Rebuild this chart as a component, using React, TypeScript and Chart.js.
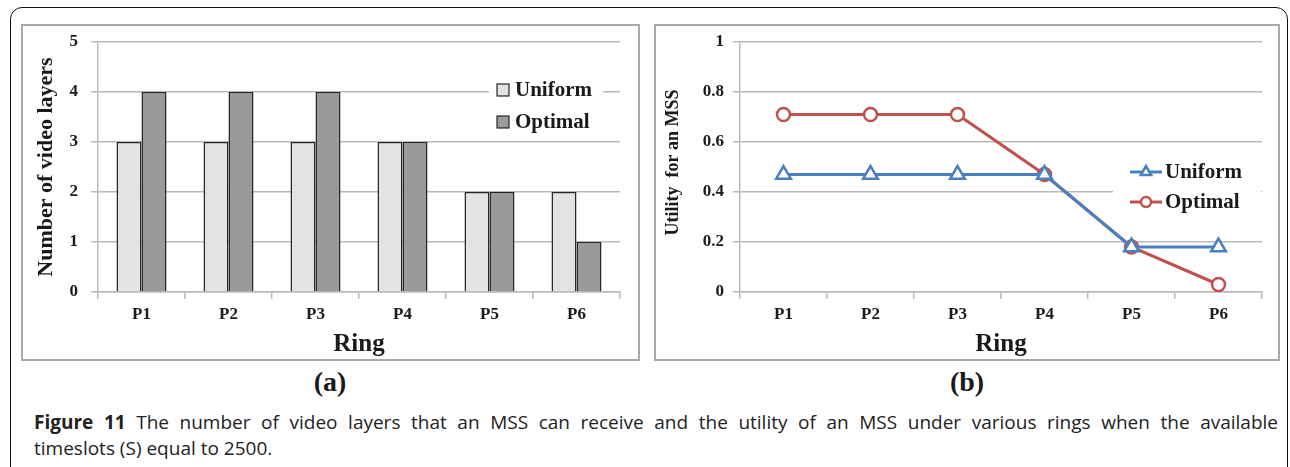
import React, { useEffect, useRef } from "react";
import { Chart, registerables } from "chart.js";

Chart.register(...registerables);

// ---- data ----
const rings = ["P1", "P2", "P3", "P4", "P5", "P6"];
const uniformLayers = [3, 3, 3, 3, 2, 2];
const optimalLayers = [4, 4, 4, 3, 2, 1];
const uniformUtility = [0.47, 0.47, 0.47, 0.47, 0.18, 0.18];
const optimalUtility = [0.71, 0.71, 0.71, 0.47, 0.18, 0.03];
const seriesNames = ["Uniform", "Optimal"];
const layerAxisTitle = "Number of video layers";
const utilityAxisTitle = "  Utility  for an MSS";
const ringTitle = "Ring";

const SERIF = "'Liberation Serif', 'Times New Roman', serif";
const GRID = "#bababa";
const BLUE = "#4a80c0";
const RED = "#c0504d";

const customLegend = {
  id: "customLegend",
  afterDraw(chart: any, _a: any, o: any) {
    const ctx = chart.ctx;
    ctx.save();
    ctx.fillStyle = "#fff";
    ctx.fillRect(o.bgX, o.bgY, o.bgW, o.bgH);
    chart.data.datasets.forEach((ds: any, i: number) => {
      const y = o.y0 + i * o.dy;
      if (o.kind === "box") {
        ctx.fillStyle = ds.backgroundColor;
        ctx.strokeStyle = "#262626";
        ctx.lineWidth = 1.2;
        ctx.fillRect(o.symX, y - 6, 12, 12);
        ctx.strokeRect(o.symX, y - 6, 12, 12);
      } else {
        ctx.strokeStyle = ds.borderColor;
        ctx.lineWidth = 3;
        ctx.beginPath();
        ctx.moveTo(o.symX, y);
        ctx.lineTo(o.symX + 32, y);
        ctx.stroke();
        const cx = o.symX + 16;
        ctx.fillStyle = "#fff";
        ctx.lineWidth = 2.5;
        ctx.beginPath();
        if (ds.pointStyle === "triangle") {
          const r = 6;
          ctx.moveTo(cx, y - r);
          ctx.lineTo(cx + r * Math.sin((2 * Math.PI) / 3), y + r / 2);
          ctx.lineTo(cx - r * Math.sin((2 * Math.PI) / 3), y + r / 2);
          ctx.closePath();
        } else {
          ctx.arc(cx, y, 5, 0, Math.PI * 2);
        }
        ctx.fill();
        ctx.stroke();
      }
      ctx.fillStyle = "#1a1a1a";
      ctx.font = `bold 21px ${SERIF}`;
      ctx.textBaseline = "middle";
      ctx.textAlign = "left";
      ctx.fillText(ds.label, o.textX, y + 1);
    });
    ctx.restore();
  },
};

function ChartCanvas({ config, style, width, height }: any) {
  const ref = useRef<HTMLCanvasElement>(null);
  useEffect(() => {
    const chart = new Chart(ref.current as HTMLCanvasElement, config());
    return () => chart.destroy();
  }, []);
  return <canvas ref={ref} width={width} height={height} style={{ position: "absolute", width, height, ...style }} />;
}

const tickFont = { family: SERIF, size: 17, weight: "bold" as const };
const fitY = (w: number) => (s: any) => { s.width = w; s.paddingTop = 0; s.paddingBottom = 0; };
const fitX = (h: number) => (s: any) => { s.height = h; s.paddingLeft = 0; s.paddingRight = 0; };

// left canvas placed at page (23,26), size 615x332
const barConfig = () => ({
  type: "bar",
  data: {
    labels: rings,
    datasets: [
      { label: seriesNames[0], data: uniformLayers, backgroundColor: "#e3e3e3", borderColor: "#262626", borderWidth: 1.5 },
      { label: seriesNames[1], data: optimalLayers, backgroundColor: "#9a9a9a", borderColor: "#262626", borderWidth: 1.5 },
    ],
  },
  options: {
    responsive: false,
    animation: false,
    layout: { padding: { top: 16, right: 18, left: 0, bottom: 0 } },
    datasets: { bar: { categoryPercentage: 0.575, barPercentage: 1 } },
    plugins: {
      legend: { display: false },
      tooltip: { enabled: false },
      customLegend: { kind: "box", bgX: 466, bgY: 46, bgW: 114, bgH: 66, y0: 64, dy: 32, symX: 474, textX: 492 },
    },
    scales: {
      x: {
        afterFit: fitX(66),
        grid: { drawOnChartArea: false, drawTicks: true, tickLength: 7, color: GRID, lineWidth: 1.5 },
        border: { color: GRID, width: 1.5 },
        ticks: { font: tickFont, color: "#1a1a1a", padding: 5 },
        title: { display: true, text: ringTitle, font: { family: SERIF, size: 25, weight: "bold", lineHeight: 1 }, color: "#1a1a1a", padding: { top: 0, bottom: 1 } },
      },
      y: {
        min: 0,
        max: 5,
        afterFit: fitY(75),
        ticks: { stepSize: 1, font: tickFont, color: "#1a1a1a", padding: 13 },
        grid: { color: GRID, lineWidth: 1.5, tickLength: 7 },
        border: { color: GRID, width: 1.5 },
        title: { display: true, text: layerAxisTitle, font: { family: SERIF, size: 22, weight: "bold" }, color: "#1a1a1a", padding: { top: 10, bottom: 0 } },
      },
    },
  },
  plugins: [customLegend],
});

// right canvas placed at page (656,26), size 622x332
const lineConfig = () => ({
  type: "line",
  data: {
    labels: rings,
    datasets: [
      {
        label: seriesNames[0], data: uniformUtility, borderColor: BLUE, backgroundColor: "#ffffff", borderWidth: 3,
        pointStyle: "triangle", pointRadius: 8.5, pointBorderWidth: 2.5, pointBackgroundColor: "#ffffff", pointBorderColor: BLUE,
      },
      {
        label: seriesNames[1], data: optimalUtility, borderColor: RED, backgroundColor: "#ffffff", borderWidth: 3,
        pointStyle: "circle", pointRadius: 6.5, pointBorderWidth: 2.5, pointBackgroundColor: "#ffffff", pointBorderColor: RED,
      },
    ],
  },
  options: {
    responsive: false,
    animation: false,
    layout: { padding: { top: 16, right: 16, left: 0, bottom: 0 } },
    plugins: {
      legend: { display: false },
      tooltip: { enabled: false },
      customLegend: { kind: "line", bgX: 457, bgY: 129, bgW: 148, bgH: 64, y0: 146, dy: 30, symX: 474, textX: 509 },
    },
    scales: {
      x: {
        offset: true,
        afterFit: fitX(66),
        grid: { offset: true, drawOnChartArea: false, drawTicks: true, tickLength: 7, color: GRID, lineWidth: 1.5 },
        border: { color: GRID, width: 1.5 },
        ticks: { font: tickFont, color: "#1a1a1a", padding: 5 },
        title: { display: true, text: ringTitle, font: { family: SERIF, size: 25, weight: "bold", lineHeight: 1 }, color: "#1a1a1a", padding: { top: 0, bottom: 1 } },
      },
      y: {
        min: 0,
        max: 1,
        afterFit: fitY(84),
        ticks: {
          stepSize: 0.2, font: tickFont, color: "#1a1a1a", padding: 9,
          callback: (v: any) => String(Math.round(Number(v) * 10) / 10),
        },
        grid: { color: GRID, lineWidth: 1.5, tickLength: 7 },
        border: { color: GRID, width: 1.5 },
        title: { display: true, text: utilityAxisTitle, font: { family: SERIF, size: 18, weight: "bold" }, color: "#1a1a1a", padding: { top: 7, bottom: 0 } },
      },
    },
  },
  plugins: [customLegend],
});

const capFont = "19px 'Open Sans', sans-serif";

export default function App() {
  const abs = (l: number, t: number, w: number, h: number, extra: any = {}) => ({
    position: "absolute" as const, left: l, top: t, width: w, height: h, boxSizing: "border-box" as const, ...extra,
  });
  return (
    <div>
      <div style={abs(10, 7, 1278, 480, { border: "1.5px solid #111", borderRadius: 12 })} />
      <div style={abs(21, 24, 619, 337, { border: "2px solid #a8a8a8" })} />
      <div style={abs(654, 24, 626, 337, { border: "2px solid #a8a8a8" })} />
      <ChartCanvas config={barConfig} width={615} height={332} style={{ left: 23, top: 26 }} />
      <ChartCanvas config={lineConfig} width={622} height={332} style={{ left: 656, top: 26 }} />
      <div style={abs(230, 364, 200, 36, { textAlign: "center", font: `bold 28px ${SERIF}`, lineHeight: "36px", color: "#1a1a1a" })}>(a)</div>
      <div style={abs(867, 364, 200, 36, { textAlign: "center", font: `bold 28px ${SERIF}`, lineHeight: "36px", color: "#1a1a1a" })}>(b)</div>
      <div style={abs(34, 408, 1244, 28, { font: capFont, lineHeight: "28px", textAlign: "justify", textAlignLast: "justify", color: "#222", whiteSpace: "nowrap" as const })}>
        <b>Figure 11</b> The number of video layers that an MSS can receive and the utility of an MSS under various rings when the available
      </div>
      <div style={abs(34, 434, 600, 28, { font: capFont, lineHeight: "28px", color: "#222" })}>
        timeslots (S) equal to 2500.
      </div>
    </div>
  );
}
